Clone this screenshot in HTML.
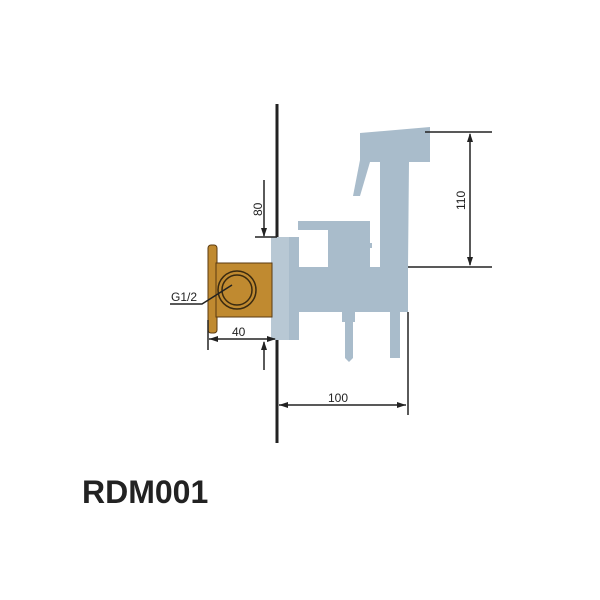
<!DOCTYPE html>
<html><head><style>body{margin:0;background:#fff}svg{display:block}</style></head>
<body>
<svg width="600" height="600" viewBox="0 0 600 600" xmlns="http://www.w3.org/2000/svg" font-family="Liberation Sans, sans-serif">
<!-- wall -->
<line x1="277" y1="104" x2="277" y2="238" stroke="#222" stroke-width="3"/>
<line x1="277" y1="333" x2="277" y2="443" stroke="#222" stroke-width="3"/>
<!-- grey body -->
<g fill="#a9bccb">
<rect x="271" y="237" width="19" height="103" fill="#b8c8d4"/>
<rect x="289" y="237" width="10" height="103"/>
<rect x="290" y="267" width="118" height="45"/>
<rect x="328" y="221" width="42" height="47"/>
<rect x="298" y="221" width="72" height="9"/>
<rect x="367" y="243" width="5" height="5"/>
<polygon points="360,133 430,127 430,162 409,162 408,267 380,267 380,162 360,162"/>
<polygon points="360,160 370,162 360,196 353,196"/>
<rect x="342" y="312" width="13" height="10"/>
<polygon points="345,322 353,322 353,358 349,362 345,358"/>
<rect x="390" y="312" width="10" height="46"/>
</g>
<!-- gold -->
<rect x="208" y="245" width="9" height="88" rx="3" fill="#c08a30" stroke="#5a3a10" stroke-width="1"/>
<rect x="216" y="263" width="56" height="54" fill="#c08a30" stroke="#5a3a10" stroke-width="1"/>
<circle cx="237" cy="290" r="19" fill="none" stroke="#3a2a10" stroke-width="1.5"/>
<circle cx="237" cy="290" r="15" fill="none" stroke="#3a2a10" stroke-width="1.5"/>
<!-- dims -->
<g stroke="#222" stroke-width="1.5" fill="none">
<line x1="425" y1="132" x2="492" y2="132"/>
<line x1="408" y1="267" x2="492" y2="267"/>
<line x1="470" y1="134" x2="470" y2="265"/>
<line x1="264" y1="180" x2="264" y2="236"/>
<line x1="255" y1="237" x2="277" y2="237"/>
<line x1="264" y1="342" x2="264" y2="370"/>
<line x1="208" y1="320" x2="208" y2="350"/>
<line x1="209" y1="339" x2="275" y2="339"/>
<line x1="279" y1="405" x2="406" y2="405"/>
<line x1="408" y1="312" x2="408" y2="415"/>
<polyline points="170,304 202,304 232,285"/>
</g>
<g fill="#222">
<polygon points="470,133 467,142 473,142"/>
<polygon points="470,266 467,257 473,257"/>
<polygon points="264,237 261,228 267,228"/>
<polygon points="264,341 261,350 267,350"/>
<polygon points="209,339 218,336 218,342"/>
<polygon points="276,339 267,336 267,342"/>
<polygon points="279,405 288,402 288,408"/>
<polygon points="406,405 397,402 397,408"/>
</g>
<g font-size="12" fill="#222">
<text x="171" y="301">G1/2</text>
<text x="232" y="336">40</text>
<text x="328" y="402">100</text>
<text transform="translate(262,216) rotate(-90)">80</text>
<text transform="translate(465,210) rotate(-90)">110</text>
</g>
<text x="82" y="503" font-size="32" font-weight="bold" fill="#222">RDM001</text>
</svg>
</body></html>
